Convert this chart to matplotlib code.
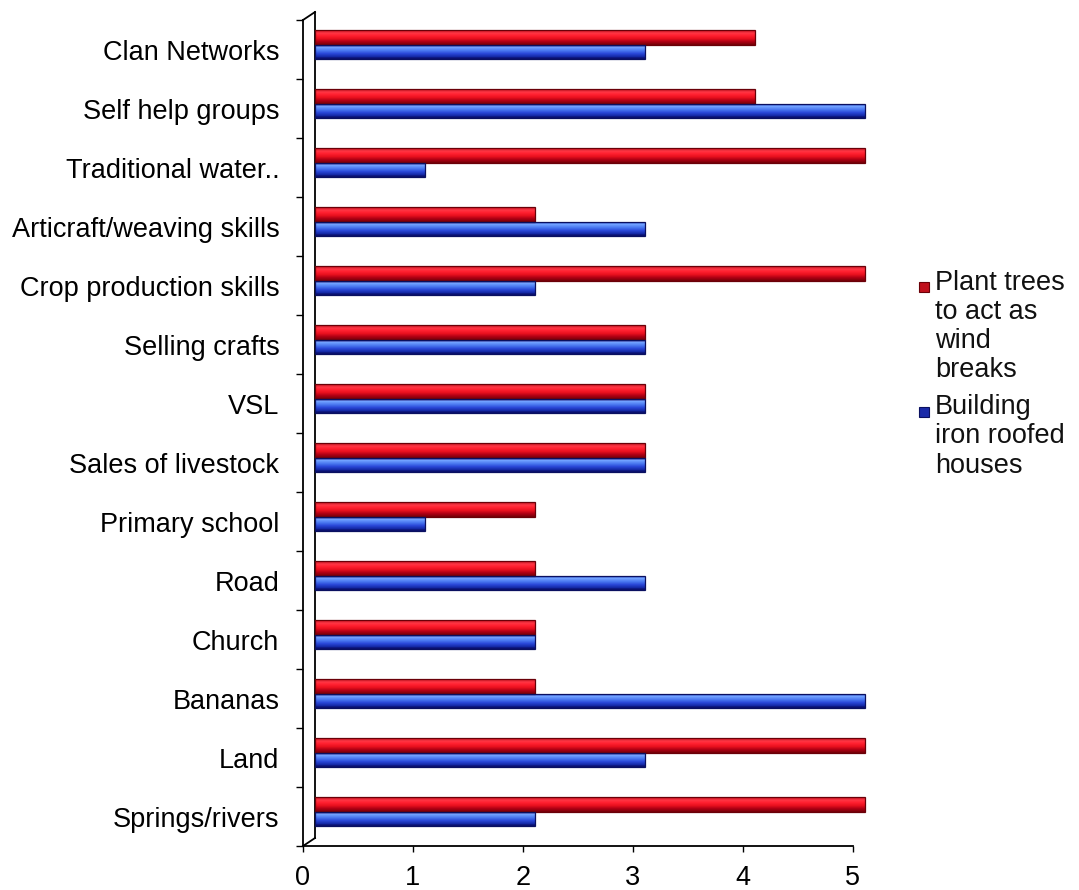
import matplotlib
matplotlib.use("Agg")
import matplotlib.pyplot as plt
import numpy as np
from matplotlib import transforms
from matplotlib.colors import LinearSegmentedColormap
from matplotlib.patches import Rectangle
from matplotlib.lines import Line2D

plt.rcParams['font.family'] = ['Liberation Sans', 'DejaVu Sans']

categories = ["Clan Networks", "Self help groups", "Traditional water..",
              "Articraft/weaving skills", "Crop production skills",
              "Selling crafts", "VSL", "Sales of livestock", "Primary school",
              "Road", "Church", "Bananas", "Land", "Springs/rivers"]
plant_trees = [4, 4, 5, 2, 5, 3, 3, 3, 2, 2, 2, 2, 5, 5]
iron_roofs = [3, 5, 1, 3, 2, 3, 3, 3, 1, 3, 2, 5, 3, 2]
series_names = ["Plant trees\nto act as\nwind\nbreaks",
                "Building\niron roofed\nhouses"]
x_ticks = [0, 1, 2, 3, 4, 5]

red_cmap = LinearSegmentedColormap.from_list(
    "red_tube", ["#7a0008", "#b00014", "#e8101e", "#ff2030", "#ff3a48", "#d01826"])
blue_cmap = LinearSegmentedColormap.from_list(
    "blue_tube", ["#0a1070", "#152aa8", "#2a48d8", "#4a78f0", "#70a0ff", "#3050c8"])

fig = plt.figure(figsize=(10.79, 8.90), dpi=100)
ax = fig.add_axes([0.2808, 0.0494, 0.5097, 0.9281])

n = len(categories)
ypos = np.arange(n)[::-1]  # first category on top
bar_h = 0.25

# depth offset used for the pseudo-3D bars
depth = transforms.offset_copy(ax.transData, fig=fig, x=12, y=5, units='dots')


def tube(y0, value, cmap, edge):
    strips = 16
    for k in range(strips):
        ax.barh(y0 + k * bar_h / strips, value, height=bar_h / strips,
                align='edge', color=cmap(k / (strips - 1)), linewidth=0,
                transform=depth, zorder=3, clip_on=False)
    ax.add_patch(Rectangle((0, y0), value, bar_h, fill=False, edgecolor=edge,
                           linewidth=0.9, transform=depth, zorder=4,
                           clip_on=False))


for y, r, b in zip(ypos, plant_trees, iron_roofs):
    tube(y, r, red_cmap, "#6a0008")
    tube(y - bar_h, b, blue_cmap, "#0a1060")

ax.set_xlim(0, 5)
ax.set_ylim(-0.5, n - 0.5)

for side in ("top", "right"):
    ax.spines[side].set_visible(False)
ax.spines["left"].set_linewidth(1.3)
ax.spines["bottom"].set_linewidth(1.3)

# back wall edge and its joins to the front axis lines
back = transforms.offset_copy(ax.transAxes, fig=fig, x=12, y=8, units='dots')
ax.add_line(Line2D([0, 0], [0, 1], transform=back, color="black",
                   linewidth=1.3, clip_on=False))
for corner in ((0, 0), (0, 1)):
    ax.add_line(Line2D([0, 12], [0, 8], color="black", linewidth=1.3,
                       clip_on=False,
                       transform=transforms.Affine2D().translate(
                           *ax.transAxes.transform(corner))))

ax.set_xticks(x_ticks)
ax.set_xticklabels([str(t) for t in x_ticks])
ax.tick_params(axis="x", length=4, width=1, pad=10, labelsize=19.5)

ax.set_yticks(ypos)
ax.set_yticklabels(categories)
ax.set_yticks(np.arange(n + 1) - 0.5, minor=True)
ax.tick_params(axis="y", which="major", length=0, pad=17, labelsize=19.5)
ax.tick_params(axis="y", which="minor", length=5, width=1)

# legend with square swatches beside the first line of each entry
leg_colors = ["#c0101c", "#1a2aa8"]
leg_edges = ["#6a0008", "#0a1060"]
leg_tops = [0.697, 0.557]
for name, col, ec, ytop in zip(series_names, leg_colors, leg_edges, leg_tops):
    fig.add_artist(Rectangle((0.8515, ytop - 0.0255), 0.0093, 0.0112,
                             transform=fig.transFigure, facecolor=col,
                             edgecolor=ec, linewidth=0.8))
    fig.text(0.8665, ytop, name, fontsize=19.5, va="top", ha="left",
             linespacing=1.16, color="#111111")

fig.savefig("out.png", dpi=100)
